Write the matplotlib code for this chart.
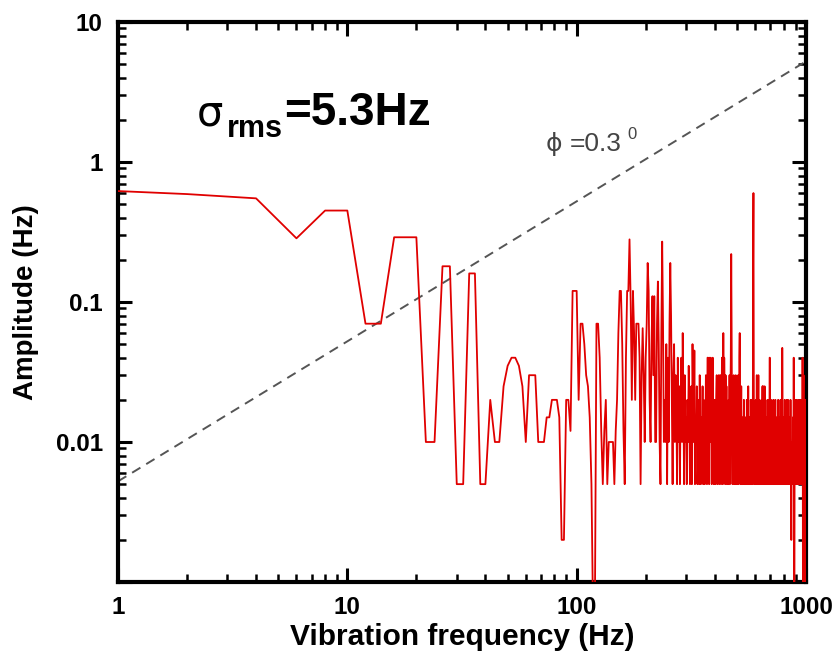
import numpy as np
import matplotlib
matplotlib.use("Agg")
import matplotlib.pyplot as plt
from matplotlib.ticker import LogLocator, FixedLocator, FuncFormatter, NullFormatter

# Vibration spectrum: frequency grid (Hz), 2 Hz resolution
freq = [1] + list(range(2, 1001, 2))

# Amplitude (Hz) per 100 Hz block
amp_0_100 = [
    0.62,
    0.59, 0.55, 0.285, 0.45, 0.45, 0.07, 0.07, 0.29, 0.29, 0.29,
    0.01, 0.01, 0.18, 0.18, 0.005, 0.005, 0.16, 0.16, 0.005, 0.005,
    0.02, 0.01, 0.01, 0.025, 0.035, 0.04, 0.04, 0.035, 0.025, 0.01,
    0.03, 0.03, 0.03, 0.01, 0.01, 0.01, 0.015, 0.015, 0.02, 0.02,
    0.02, 0.015, 0.002, 0.002, 0.02, 0.02, 0.012, 0.12, 0.12, 0.12,
]
amp_100_200 = [
    0.02, 0.07, 0.07, 0.05, 0.03, 0.025, 0.015, 0.005, 0.0005, 0.0005,
    0.07, 0.07, 0.04, 0.012, 0.005, 0.012, 0.02, 0.005, 0.01, 0.01,
    0.01, 0.01, 0.005, 0.012, 0.02, 0.06, 0.12, 0.12, 0.05, 0.012,
    0.005, 0.04, 0.12, 0.12, 0.28, 0.1, 0.02, 0.12, 0.06, 0.02,
    0.07, 0.07, 0.07, 0.04, 0.005, 0.03, 0.065, 0.03, 0.01, 0.04,
]
amp_200_300 = [
    0.07, 0.19, 0.12, 0.02, 0.01, 0.05, 0.11, 0.03, 0.11, 0.01,
    0.01, 0.07, 0.14, 0.05, 0.01, 0.005, 0.06, 0.27, 0.07, 0.01,
    0.02, 0.01, 0.05, 0.005, 0.04, 0.01, 0.07, 0.19, 0.08, 0.02,
    0.005, 0.03, 0.05, 0.01, 0.03, 0.02, 0.005, 0.04, 0.01, 0.025,
    0.005, 0.02, 0.04, 0.01, 0.06, 0.02, 0.005, 0.03, 0.01, 0.015,
]
amp_300_400 = [
    0.005, 0.02, 0.01, 0.035, 0.015, 0.005, 0.01, 0.025, 0.005, 0.05,
    0.02, 0.01, 0.045, 0.005, 0.015, 0.01, 0.025, 0.005, 0.01, 0.02,
    0.005, 0.03, 0.01, 0.005, 0.015, 0.01, 0.025, 0.005, 0.02, 0.01,
    0.005, 0.01, 0.03, 0.01, 0.005, 0.04, 0.04, 0.02, 0.005, 0.04,
    0.01, 0.04, 0.03, 0.005, 0.02, 0.04, 0.01, 0.005, 0.015, 0.02,
]
amp_400_500 = [
    0.005, 0.01, 0.02, 0.03, 0.005, 0.015, 0.01, 0.03, 0.005, 0.02,
    0.03, 0.03, 0.005, 0.01, 0.04, 0.02, 0.005, 0.06, 0.01, 0.04,
    0.02, 0.005, 0.03, 0.01, 0.025, 0.005, 0.015, 0.01, 0.005, 0.02,
    0.01, 0.03, 0.005, 0.02, 0.04, 0.22, 0.06, 0.01, 0.005, 0.02,
    0.01, 0.03, 0.005, 0.015, 0.01, 0.005, 0.03, 0.01, 0.02, 0.005,
]
amp_500_600 = [
    0.01, 0.02, 0.03, 0.005, 0.01, 0.04, 0.06, 0.02, 0.005, 0.01,
    0.025, 0.005, 0.01, 0.015, 0.005, 0.01, 0.01, 0.02, 0.005, 0.01,
    0.01, 0.005, 0.015, 0.01, 0.005, 0.02, 0.01, 0.005, 0.01, 0.025,
    0.005, 0.01, 0.015, 0.005, 0.01, 0.005, 0.02, 0.01, 0.005, 0.01,
    0.02, 0.005, 0.01, 0.2, 0.6, 0.03, 0.005, 0.01, 0.015, 0.005,
]
amp_600_700 = [
    0.01, 0.02, 0.005, 0.01, 0.03, 0.01, 0.005, 0.015, 0.01, 0.03,
    0.005, 0.01, 0.02, 0.005, 0.01, 0.015, 0.005, 0.01, 0.01, 0.02,
    0.005, 0.01, 0.025, 0.005, 0.025, 0.01, 0.005, 0.015, 0.01, 0.025,
    0.005, 0.01, 0.02, 0.005, 0.01, 0.01, 0.005, 0.015, 0.01, 0.005,
    0.02, 0.01, 0.005, 0.01, 0.015, 0.005, 0.04, 0.04, 0.01, 0.005,
]
amp_700_800 = [
    0.01, 0.02, 0.005, 0.01, 0.015, 0.005, 0.01, 0.01, 0.005, 0.02,
    0.01, 0.005, 0.01, 0.015, 0.005, 0.01, 0.02, 0.02, 0.005, 0.01,
    0.005, 0.01, 0.015, 0.005, 0.01, 0.01, 0.005, 0.02, 0.01, 0.005,
    0.01, 0.015, 0.005, 0.01, 0.01, 0.005, 0.02, 0.01, 0.005, 0.01,
    0.015, 0.005, 0.01, 0.047, 0.02, 0.005, 0.01, 0.01, 0.005, 0.015,
]
amp_800_900 = [
    0.01, 0.005, 0.01, 0.02, 0.005, 0.01, 0.015, 0.005, 0.01, 0.01,
    0.005, 0.02, 0.01, 0.005, 0.01, 0.015, 0.02, 0.02, 0.005, 0.01,
    0.005, 0.01, 0.015, 0.005, 0.01, 0.01, 0.005, 0.02, 0.01, 0.005,
    0.002, 0.002, 0.01, 0.005, 0.01, 0.01, 0.005, 0.01, 0.015, 0.005,
    0.01, 0.04, 0.01, 0.0005, 0.0005, 0.01, 0.02, 0.01, 0.005, 0.01,
]
amp_900_1000 = [
    0.015, 0.005, 0.01, 0.02, 0.005, 0.01, 0.01, 0.005, 0.015, 0.01,
    0.005, 0.02, 0.01, 0.005, 0.01, 0.015, 0.005, 0.01, 0.01, 0.005,
    0.02, 0.01, 0.005, 0.01, 0.015, 0.005, 0.01, 0.02, 0.005, 0.01,
    0.005, 0.01, 0.04, 0.01, 0.0005, 0.0005, 0.02, 0.03, 0.01, 0.005,
    0.01, 0.015, 0.02, 0.005, 0.01, 0.0005, 0.0005, 0.015, 0.02, 0.015,
]

amplitude = (amp_0_100 + amp_100_200 + amp_200_300 + amp_300_400 + amp_400_500
             + amp_500_600 + amp_600_700 + amp_700_800 + amp_800_900 + amp_900_1000)

# Constant phase-noise reference line: amplitude = f * phi (rad)
phi_deg = 0.3
ref_freq = [1, 1000]
ref_amp = [f * np.deg2rad(phi_deg) for f in ref_freq]

y_ticks = [0.001, 0.01, 0.1, 1, 10]
y_tick_labels = ["", "0.01", "0.1", "1", "10"]
x_ticks = [1, 10, 100, 1000]
x_tick_labels = ["1", "10", "100", "1000"]

sans = ["Liberation Sans", "DejaVu Sans"]

fig = plt.figure(figsize=(8.38, 6.52), dpi=100)
ax = fig.add_axes([118 / 838, 1 - 582 / 652, (806 - 118) / 838, (582 - 22) / 652])

ax.plot(ref_freq, ref_amp, color="#555555", lw=1.4, ls=(0, (5, 3.5)), zorder=2)
ax.plot(freq, amplitude, color="#e00000", lw=1.3, zorder=3)

ax.set_xscale("log")
ax.set_yscale("log")
ax.set_xlim(1, 1000)
ax.set_ylim(0.001, 10)

ax.xaxis.set_major_locator(FixedLocator(x_ticks))
ax.xaxis.set_major_formatter(FuncFormatter(lambda v, p: x_tick_labels[x_ticks.index(v)] if v in x_ticks else ""))
ax.yaxis.set_major_locator(FixedLocator(y_ticks))
ax.yaxis.set_major_formatter(FuncFormatter(lambda v, p: y_tick_labels[y_ticks.index(v)] if v in y_ticks else ""))
ax.xaxis.set_minor_locator(LogLocator(base=10, subs=np.arange(2, 10), numticks=20))
ax.yaxis.set_minor_locator(LogLocator(base=10, subs=np.arange(2, 10), numticks=20))
ax.xaxis.set_minor_formatter(NullFormatter())
ax.yaxis.set_minor_formatter(NullFormatter())

ax.tick_params(which="both", direction="in", top=True, right=True, color="black")
ax.tick_params(which="major", length=10, width=2.2)
ax.tick_params(axis="x", which="major", pad=10)
ax.tick_params(axis="y", which="major", pad=11)
ax.tick_params(which="minor", length=6, width=1.8)
for sp in ax.spines.values():
    sp.set_linewidth(3)

for lbl in ax.get_xticklabels() + ax.get_yticklabels():
    lbl.set_fontfamily(sans)
    lbl.set_fontweight("bold")
    lbl.set_fontsize(17.5)

ax.set_xlabel("Vibration frequency (Hz)", fontfamily=sans, fontweight="bold", fontsize=21.5, labelpad=3)
ax.set_ylabel("Amplitude (Hz)", fontfamily=sans, fontweight="bold", fontsize=20, labelpad=12)


def fig_xy(px, py):
    return px / 838, 1 - py / 652


# Annotation: rms frequency deviation
fig.text(*fig_xy(197, 125), "σ", fontfamily=["DejaVu Sans"], fontsize=30, va="baseline", ha="left")
fig.text(*fig_xy(227, 137), "rms", fontfamily=sans, fontweight="bold", fontsize=22, va="baseline", ha="left")
fig.text(*fig_xy(284, 125), "=5.3Hz", fontfamily=sans, fontweight="bold", fontsize=33, va="baseline", ha="left")

# Annotation: phase of reference line
fig.text(*fig_xy(546, 151), "ϕ", fontfamily=["DejaVu Sans"], fontsize=18, color="#444444", va="baseline", ha="left")
fig.text(*fig_xy(570, 151), "=0.3", fontfamily=sans, fontsize=19, color="#444444", va="baseline", ha="left")
fig.text(*fig_xy(627, 139), "0", fontfamily=sans, fontsize=12, color="#444444", va="baseline", ha="left")

fig.savefig("out.png", dpi=100)
